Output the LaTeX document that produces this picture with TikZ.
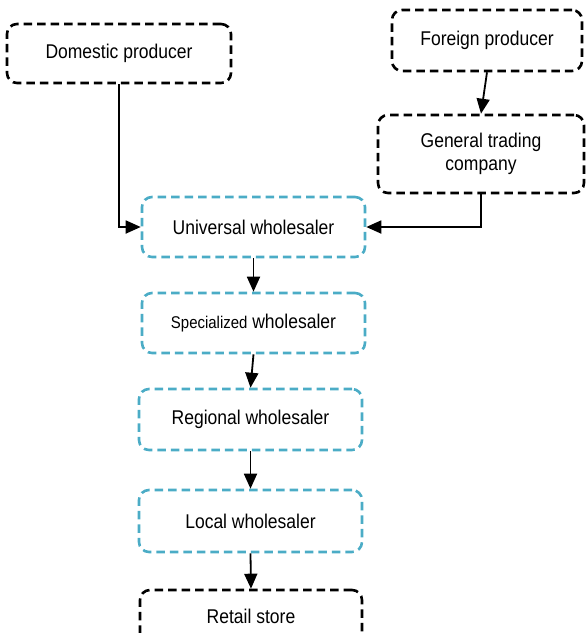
\documentclass[tikz,border=0pt]{standalone}
\usepackage{fontspec}
\setmainfont{Liberation Sans}[FakeStretch=0.88]
\usetikzlibrary{arrows.meta}
\definecolor{teal1}{HTML}{4BACC6}
\tikzset{
  box/.style={draw, line width=2.6pt, dash pattern=on 8.5pt off 5pt, rounded corners=10pt, inner sep=0pt, align=center, font=\fontsize{19.9}{23}\selectfont},
  blackbox/.style={box, draw=black},
  tealbox/.style={box, draw=teal1},
  conn/.style={line width=1.8pt, -{Triangle[length=15pt,width=13pt]}}
}
\begin{document}
\begin{tikzpicture}[x=1pt,y=-1pt]
\useasboundingbox (0,0) rectangle (586,633);
\clip (0,0) rectangle (586,633);
\node[blackbox, minimum width=224pt, minimum height=59pt] (dom) at (119,53.5) {Domestic producer};
\node[blackbox, minimum width=190pt, minimum height=61pt] (for) at (487,40.5) {Foreign producer};
\node[blackbox, minimum width=206pt, minimum height=78pt] (gen) at (481,154) {General trading\\company};
\node[tealbox, minimum width=223pt, minimum height=60pt] (uni) at (253.5,227) {Universal wholesaler};
\node[tealbox, minimum width=223pt, minimum height=60pt] (spe) at (253.5,323) {{\fontsize{17}{20}\selectfont Specialized} wholesaler};
\node[tealbox, minimum width=223pt, minimum height=61pt] (reg) at (250.5,419.5) {Regional wholesaler};
\node[tealbox, minimum width=223pt, minimum height=62pt] (loc) at (250.5,521) {Local wholesaler};
\node[blackbox, minimum width=222pt, minimum height=60pt, text depth=0pt] (ret) at (251,620) {\raisebox{7pt}{Retail store}};
\draw[conn] (dom.south) |- (uni.west);
\draw[conn] (gen.south) |- (uni.east);
\draw[conn] (for.south) -- (gen.north);
\draw[conn] (uni.south) -- (spe.north);
\draw[conn] (spe.south) -- (reg.north);
\draw[conn] (reg.south) -- (loc.north);
\draw[conn] (loc.south) -- (ret.north);
\end{tikzpicture}
\end{document}
